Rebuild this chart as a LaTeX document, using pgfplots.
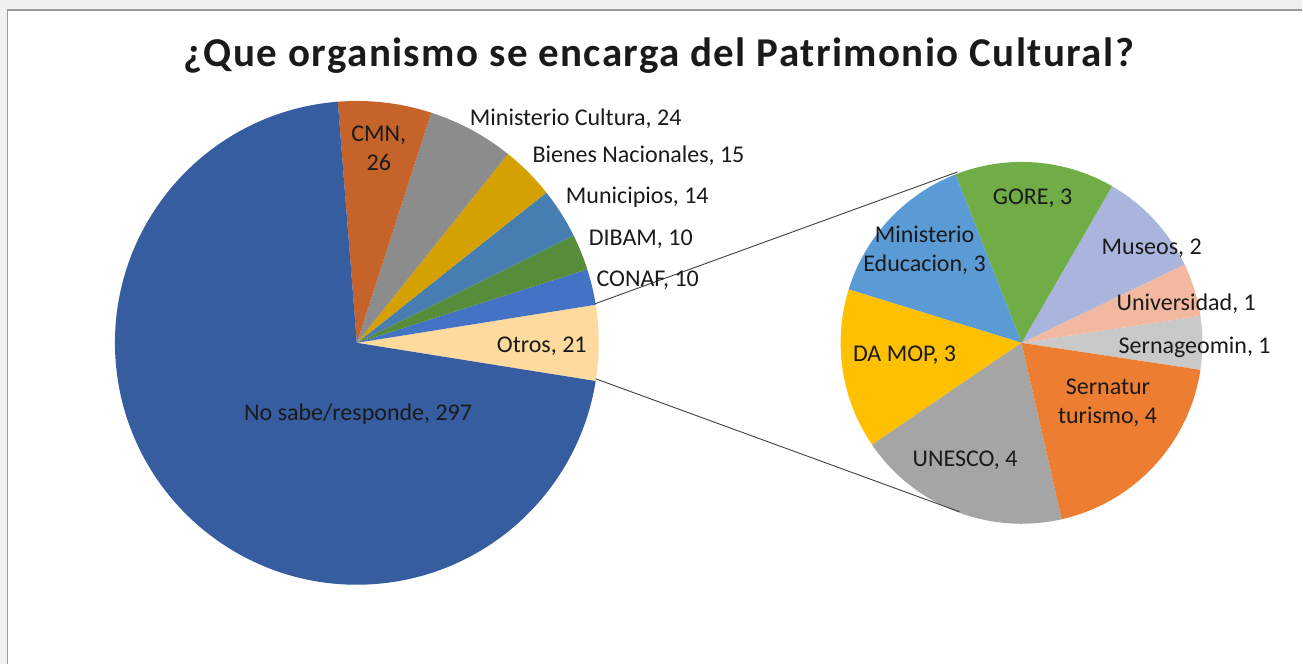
\documentclass[border=0pt]{standalone}
\usepackage{pgfplots}
\usepackage{pgfplotstable}
\pgfplotsset{compat=1.18}
\usepackage{fontspec}
\setmainfont{Carlito}

\definecolor{bgout}{HTML}{F0F0F0}
\definecolor{frame}{HTML}{9A9A9A}
\definecolor{txt}{HTML}{1A1A1A}
% main pie
\definecolor{cNoSabe}{HTML}{355DA0}
\definecolor{cCMN}{HTML}{C5632A}
\definecolor{cMinCul}{HTML}{8C8C8C}
\definecolor{cBienes}{HTML}{D4A100}
\definecolor{cMunic}{HTML}{477EB1}
\definecolor{cDIBAM}{HTML}{568C3A}
\definecolor{cCONAF}{HTML}{4472C4}
\definecolor{cOtros}{HTML}{FFDA9E}
% second pie
\definecolor{cSernag}{HTML}{C9C9C9}
\definecolor{cUniv}{HTML}{F3B8A0}
\definecolor{cMuseos}{HTML}{A9B5DC}
\definecolor{cGORE}{HTML}{70AD47}
\definecolor{cMinEdu}{HTML}{5B9BD5}
\definecolor{cDAMOP}{HTML}{FFC000}
\definecolor{cUNESCO}{HTML}{A5A5A5}
\definecolor{cSernat}{HTML}{ED7D31}

\pgfplotstableread{
label value color
Otros 21 cOtros
CONAF 10 cCONAF
DIBAM 10 cDIBAM
Municipios 14 cMunic
Bienes 15 cBienes
MinCultura 24 cMinCul
CMN 26 cCMN
NoSabe 297 cNoSabe
}\mainpie

\pgfplotstableread{
label value color
Sernageomin 1 cSernag
Universidad 1 cUniv
Museos 2 cMuseos
GORE 3 cGORE
MinEducacion 3 cMinEdu
DAMOP 3 cDAMOP
UNESCO 4 cUNESCO
Sernatur 4 cSernat
}\subpie

% draw a pie from a table: #1 table, #2 cx, #3 cy, #4 radius
\newcommand{\drawpie}[4]{%
  \pgfplotstablegetrowsof{#1}%
  \pgfmathtruncatemacro\pieN{\pgfplotsretval-1}%
  \def\pieTotal{0}%
  \pgfplotsforeachungrouped \i in {0,...,\pieN}{%
    \pgfplotstablegetelem{\i}{value}\of{#1}%
    \pgfmathsetmacro\pieTotal{\pieTotal+\pgfplotsretval}%
  }%
  \pgfplotstablegetelem{0}{value}\of{#1}%
  \pgfmathsetmacro\pieA{-\pgfplotsretval/\pieTotal*180}%
  \pgfplotsforeachungrouped \i in {0,...,\pieN}{%
    \pgfplotstablegetelem{\i}{value}\of{#1}%
    \pgfmathsetmacro\pieB{\pieA+\pgfplotsretval/\pieTotal*360}%
    \pgfplotstablegetelem{\i}{color}\of{#1}%
    \edef\pieC{\pgfplotsretval}%
    \edef\temp{\noexpand\fill[\pieC] (axis cs:#2,#3) -- ++(\pieA:#4pt) arc[start angle=\pieA, end angle=\pieB, radius=#4pt] -- cycle;}%
    \temp
    \let\pieA\pieB
  }%
}

\begin{document}
\begin{tikzpicture}
\begin{axis}[
  width=1303pt, height=664pt, scale only axis,
  xmin=0, xmax=1303, ymin=0, ymax=664,
  hide axis, clip=false,
]
% background and frame
\fill[bgout] (axis cs:0,0) rectangle (axis cs:1303,664);
\fill[white] (axis cs:7.5,0) rectangle (axis cs:1303,654);
\draw[frame, line width=1.2pt] (axis cs:7.5,0) -- (axis cs:7.5,654) -- (axis cs:1303,654);

% pies (y = 664 - pixel row)
\drawpie{\mainpie}{357}{321}{242}
\drawpie{\subpie}{1022}{321}{181}

% connector lines
\draw[black!75, line width=0.9pt] (axis cs:595,360) -- (axis cs:958,492);
\draw[black!75, line width=0.9pt] (axis cs:596,285) -- (axis cs:960,152);

% title
\node[anchor=base, txt, font=\fontsize{41}{48}\selectfont\bfseries\addfontfeature{LetterSpace=3.5}] at (axis cs:659,597) {¿Que organismo se encarga del Patrimonio Cultural?};

% labels main pie
\begin{scope}[every node/.style={txt, font=\fontsize{24}{28}\selectfont, inner sep=0pt}]
\node[anchor=base] at (axis cs:379,522.3) {CMN,};
\node[anchor=base] at (axis cs:379,493) {26};
\node[anchor=base west] at (axis cs:470,538.3) {Ministerio Cultura, 24};
\node[anchor=base west] at (axis cs:532.7,501.7) {Bienes Nacionales, 15};
\node[anchor=base west] at (axis cs:566,460) {Municipios, 14};
\node[anchor=base west] at (axis cs:589,418.3) {DIBAM, 10};
\node[anchor=base west] at (axis cs:596.7,377.3) {CONAF, 10};
\node[anchor=base] at (axis cs:542,311.3) {Otros, 21};
\node[anchor=base] at (axis cs:358.3,243.3) {No sabe/responde, 297};
% labels second pie
\node[anchor=base] at (axis cs:1033,459.7) {GORE, 3};
\node[anchor=base] at (axis cs:925,421.3) {Ministerio};
\node[anchor=base] at (axis cs:925,392.3) {Educacion, 3};
\node[anchor=base west] at (axis cs:1102,409) {Museos, 2};
\node[anchor=base west] at (axis cs:1117,353.3) {Universidad, 1};
\node[anchor=base west] at (axis cs:1119,310) {Sernageomin, 1};
\node[anchor=base] at (axis cs:905,302.3) {DA MOP, 3};
\node[anchor=base] at (axis cs:1108.5,269) {Sernatur};
\node[anchor=base] at (axis cs:1108,240.7) {turismo, 4};
\node[anchor=base] at (axis cs:965.5,197.3) {UNESCO, 4};
\end{scope}
\end{axis}
\end{tikzpicture}
\end{document}
